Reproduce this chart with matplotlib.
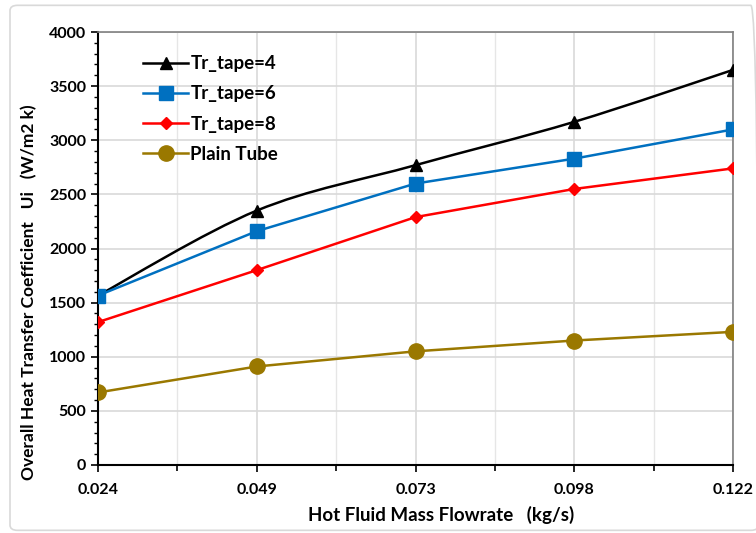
import numpy as np
import matplotlib
matplotlib.use("Agg")
import matplotlib.pyplot as plt
from matplotlib.path import Path
from matplotlib.patches import PathPatch, FancyBboxPatch
from matplotlib.ticker import MultipleLocator

plt.rcParams['font.family'] = ['Lato', 'DejaVu Sans']
plt.rcParams['font.weight'] = 'bold'

# data
flowrate = ["0.024", "0.049", "0.073", "0.098", "0.122"]
tape4 = [1565, 2350, 2770, 3170, 3650]
tape6 = [1565, 2160, 2600, 2830, 3100]
tape8 = [1320, 1800, 2290, 2550, 2740]
plain = [670, 910, 1050, 1150, 1230]

# name, values, colour, marker, size, smoothed line
series = [
    ("Tr_tape=4", tape4, "black", "^", 9, True),
    ("Tr_tape=6", tape6, "#0070C0", "s", 10, False),
    ("Tr_tape=8", tape8, "#FF0000", "D", 6.5, False),
    ("Plain Tube", plain, "#9A7800", "o", 11, False),
]


def smooth_path(x, y):
    # excel-like smoothed line (catmull-rom as cubic bezier)
    pts = np.column_stack([x, y]).astype(float)
    verts = [pts[0]]
    codes = [Path.MOVETO]
    n = len(pts)
    for i in range(n - 1):
        p0 = pts[max(i - 1, 0)]
        p1 = pts[i]
        p2 = pts[i + 1]
        p3 = pts[min(i + 2, n - 1)]
        c1 = p1 + (p2 - p0) / 6.0
        c2 = p2 - (p3 - p1) / 6.0
        verts += [c1, c2, p2]
        codes += [Path.CURVE4] * 3
    return Path(verts, codes)


fig = plt.figure(figsize=(7.56, 5.33), dpi=100)
ax = fig.add_axes([98 / 756, 1 - 465 / 533, (733 - 98) / 756, (465 - 32) / 533])

# rounded border around the chart
fig.patches.append(FancyBboxPatch((10 / 756, 0.005), 0.99, 0.985, boxstyle="round,pad=0,rounding_size=0.01",
                                  transform=fig.transFigure, fill=False, edgecolor="#d9d9d9", linewidth=1.2))

xs = np.arange(len(flowrate))
for name, vals, col, mk, ms, smooth in series:
    if smooth:
        ax.add_patch(PathPatch(smooth_path(xs, vals), facecolor="none", edgecolor=col, lw=1.8, zorder=3))
        ax.plot(xs, vals, linestyle="none", marker=mk, color=col, markersize=ms, zorder=4)
    else:
        ax.plot(xs, vals, color=col, lw=1.8, marker=mk, markersize=ms, zorder=4)
    ax.plot([], [], color=col, marker=mk, markersize=ms, lw=1.8, label=name)

ax.set_xlim(0, 4)
ax.set_ylim(0, 4000)
ax.set_xticks(xs)
ax.set_xticklabels(flowrate)
ax.xaxis.set_minor_locator(MultipleLocator(0.5))
ax.yaxis.set_major_locator(MultipleLocator(500))
ax.yaxis.set_minor_locator(MultipleLocator(100))

ax.grid(True, which="major", color="#d9d9d9", lw=1.2)
ax.grid(True, which="minor", axis="x", color="#e6e6e6", lw=1.0)
ax.set_axisbelow(True)

ax.tick_params(axis="both", which="major", direction="out", length=5, width=1.2, labelsize=11.5)
ax.tick_params(axis="y", which="minor", direction="out", length=3, width=1)
ax.tick_params(axis="x", which="minor", direction="out", length=4, width=1.2)
ax.tick_params(axis="x", which="major", pad=8)
for lab in ax.get_xticklabels() + ax.get_yticklabels():
    lab.set_fontweight("bold")

for s in ["left", "bottom"]:
    ax.spines[s].set_color("black")
    ax.spines[s].set_linewidth(1.5)
for s in ["top", "right"]:
    ax.spines[s].set_color("#808080")
    ax.spines[s].set_linewidth(1.2)

ax.set_xlabel("Hot Fluid Mass Flowrate   (kg/s)", fontsize=13.5, fontweight="bold", labelpad=4)
ax.xaxis.set_label_coords(0.54, -0.095)
ax.set_ylabel("Overall Heat Transfer Coefficient   Ui   (W/m2 k)", fontsize=12.5, fontweight="bold", labelpad=12)
ax.yaxis.set_label_coords(-0.095, 0.40)

leg = ax.legend(loc="upper left", bbox_to_anchor=(0.045, 0.985), frameon=False,
                handlelength=2.4, handletextpad=0.1, labelspacing=0.7,
                prop={"weight": "bold", "size": 13.5})

fig.savefig("out.png", dpi=100)
